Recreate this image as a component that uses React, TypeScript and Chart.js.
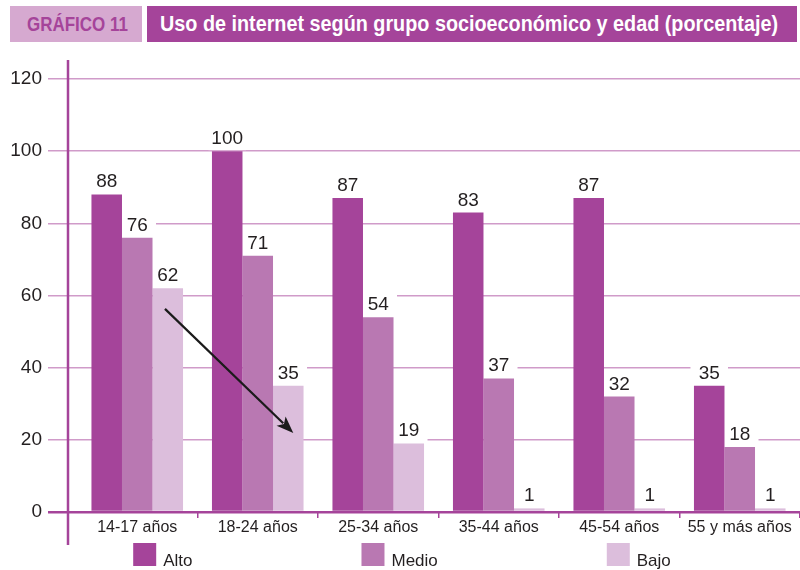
import React, { useEffect, useRef } from "react";
import { Chart, registerables } from "chart.js";

Chart.register(...registerables);

const categories = ["14-17 años", "18-24 años", "25-34 años", "35-44 años", "45-54 años", "55 y más años"];
const seriesNames = ["Alto", "Medio", "Bajo"];
const alto = [88, 100, 87, 83, 87, 35];
const medio = [76, 71, 54, 37, 32, 18];
const bajo = [62, 35, 19, 1, 1, 1];
const yTicks = [0, 20, 40, 60, 80, 100, 120];
// arrow annotation in data space: [category index, fraction of category, value]
const arrowFrom = [0, 0.23, 56.3];
const arrowTo = [1, 0.295, 21.9];

const COLORS = ["#a5449a", "#b978b2", "#dcbedc"];
const PURPLE = "#a5449a";
const GRID = "#d09bc9";
const FONT = "'Liberation Sans', Arial, sans-serif";

const decorPlugin = {
  id: "decor",
  beforeDatasetsDraw(chart: any) {
    const { ctx, chartArea } = chart;
    ctx.save();
    ctx.strokeStyle = PURPLE;
    ctx.lineWidth = 2.5;
    const x = chartArea.left - 9;
    ctx.beginPath();
    ctx.moveTo(x, chartArea.top - 19);
    ctx.lineTo(x, chartArea.bottom + 33);
    ctx.stroke();
    // white boxes behind value labels
    chart.data.datasets.forEach((ds: any, di: number) => {
      const meta = chart.getDatasetMeta(di);
      meta.data.forEach((bar: any) => {
        const w = bar.width + 7;
        ctx.fillStyle = "#ffffff";
        ctx.fillRect(bar.x - w / 2, bar.y - 25, w, 24);
      });
    });
    ctx.restore();
  },
  afterDatasetsDraw(chart: any) {
    const { ctx, chartArea } = chart;
    ctx.save();
    chart.data.datasets.forEach((ds: any, di: number) => {
      const meta = chart.getDatasetMeta(di);
      meta.data.forEach((bar: any, i: number) => {
        ctx.fillStyle = "#231f20";
        ctx.font = `19px ${FONT}`;
        ctx.textAlign = "center";
        ctx.textBaseline = "alphabetic";
        ctx.fillText(String(ds.data[i]), bar.x, bar.y - 7);
      });
    });
    // arrow
    const xs = chart.scales.x;
    const ys = chart.scales.y;
    const catW = (chartArea.right - chartArea.left) / categories.length;
    const x1 = xs.getPixelForValue(arrowFrom[0]) + arrowFrom[1] * catW;
    const y1 = ys.getPixelForValue(arrowFrom[2]);
    const x2 = xs.getPixelForValue(arrowTo[0]) + arrowTo[1] * catW;
    const y2 = ys.getPixelForValue(arrowTo[2]);
    const ang = Math.atan2(y2 - y1, x2 - x1);
    const hl = 17, hw = 6.5;
    const bx = x2 - hl * Math.cos(ang), by = y2 - hl * Math.sin(ang);
    ctx.strokeStyle = "#1b1b1b";
    ctx.fillStyle = "#1b1b1b";
    ctx.lineWidth = 2.2;
    ctx.beginPath();
    ctx.moveTo(x1, y1);
    ctx.lineTo(bx + 3 * Math.cos(ang), by + 3 * Math.sin(ang));
    ctx.stroke();
    ctx.beginPath();
    ctx.moveTo(x2, y2);
    ctx.lineTo(bx + hw * Math.sin(ang), by - hw * Math.cos(ang));
    ctx.lineTo(bx + 4 * Math.cos(ang), by + 4 * Math.sin(ang));
    ctx.lineTo(bx - hw * Math.sin(ang), by + hw * Math.cos(ang));
    ctx.closePath();
    ctx.fill();
    // legend
    ctx.font = `17px ${FONT}`;
    const box = 23, gapText = 7, gapItem = 169;
    const widths = seriesNames.map((n) => box + gapText + ctx.measureText(n).width);
    const total = widths.reduce((a, b) => a + b, 0) + gapItem * (seriesNames.length - 1);
    let lx = chart.width / 2 + 2 - total / 2;
    const ly = chartArea.bottom + 31;
    seriesNames.forEach((n, i) => {
      ctx.fillStyle = COLORS[i];
      ctx.fillRect(lx, ly, box, box);
      ctx.fillStyle = "#231f20";
      ctx.textAlign = "left";
      ctx.textBaseline = "alphabetic";
      ctx.fillText(n, lx + box + gapText, ly + box);
      lx += widths[i] + gapItem;
    });
    ctx.restore();
  },
};

function FitText({ text, width, style }: { text: string; width: number; style: any }) {
  const ref = useRef<HTMLSpanElement>(null);
  useEffect(() => {
    const el = ref.current;
    if (!el) return;
    el.style.transform = "none";
    const w = el.offsetWidth;
    if (w > 0) el.style.transform = `scaleX(${width / w})`;
  }, [text, width]);
  return (
    <span ref={ref} style={{ display: "inline-block", whiteSpace: "nowrap", transformOrigin: "left center", ...style }}>
      {text}
    </span>
  );
}

export default function App() {
  const ref = useRef<HTMLCanvasElement>(null);
  useEffect(() => {
    document.body.style.margin = "0";
    const chart = new Chart(ref.current as HTMLCanvasElement, {
      type: "bar",
      data: {
        labels: categories,
        datasets: [alto, medio, bajo].map((d, i) => ({
          label: seriesNames[i],
          data: d,
          backgroundColor: COLORS[i],
          borderWidth: 0,
          categoryPercentage: 0.76,
          barPercentage: 1,
        })),
      },
      options: {
        animation: false,
        responsive: false,
        maintainAspectRatio: false,
        layout: { padding: { top: 79, right: 0, bottom: 0, left: 0 } },
        plugins: { legend: { display: false }, tooltip: { enabled: false } },
        scales: {
          x: {
            afterFit(scale: any) {
              scale.height = 58;
            },
            border: { display: false },
            grid: {
              offset: true,
              drawOnChartArea: false,
              drawTicks: true,
              tickLength: 6,
              lineWidth: 1.5,
              color: (c: any) => (c.index === 0 || c.index === categories.length ? "rgba(0,0,0,0)" : PURPLE),
            },
            ticks: {
              padding: 0,
              color: "#231f20",
              font: { family: FONT, size: 16 },
              maxRotation: 0,
              autoSkip: false,
            },
          },
          y: {
            min: 0,
            max: 120,
            afterFit(scale: any) {
              scale.width = 77;
            },
            afterBuildTicks(scale: any) {
              scale.ticks = yTicks.map((v) => ({ value: v }));
            },
            border: { display: false },
            grid: {
              drawTicks: true,
              tickLength: 29,
              color: (c: any) => (c.index === 0 ? PURPLE : GRID),
              lineWidth: (c: any) => (c.index === 0 ? 2.5 : 1.5),
            },
            ticks: {
              padding: 6,
              color: "#231f20",
              font: { family: FONT, size: 19 },
            },
          },
        },
      },
      plugins: [decorPlugin],
    });
    return () => chart.destroy();
  }, []);

  return (
    <div style={{ position: "absolute", left: 0, top: 0, width: 800, height: 570, background: "#fff" }}>
      <canvas ref={ref} width={800} height={570} style={{ position: "absolute", left: 0, top: 0 }} />
      <div
        style={{
          position: "absolute",
          left: 10,
          top: 6,
          width: 132,
          height: 36,
          background: "#d6a9d0",
          display: "flex",
          alignItems: "center",
          paddingLeft: 17,
          boxSizing: "border-box",
        }}
      >
        <FitText
          text="GRÁFICO 11"
          width={101}
          style={{ color: PURPLE, fontFamily: FONT, fontWeight: "bold", fontSize: 20 }}
        />
      </div>
      <div
        style={{
          position: "absolute",
          left: 147,
          top: 6,
          width: 650,
          height: 36,
          background: PURPLE,
          display: "flex",
          alignItems: "center",
          paddingLeft: 13,
          boxSizing: "border-box",
        }}
      >
        <FitText
          text="Uso de internet según grupo socioeconómico y edad (porcentaje)"
          width={618}
          style={{ color: "#fff", fontFamily: FONT, fontWeight: "bold", fontSize: 22 }}
        />
      </div>
    </div>
  );
}
